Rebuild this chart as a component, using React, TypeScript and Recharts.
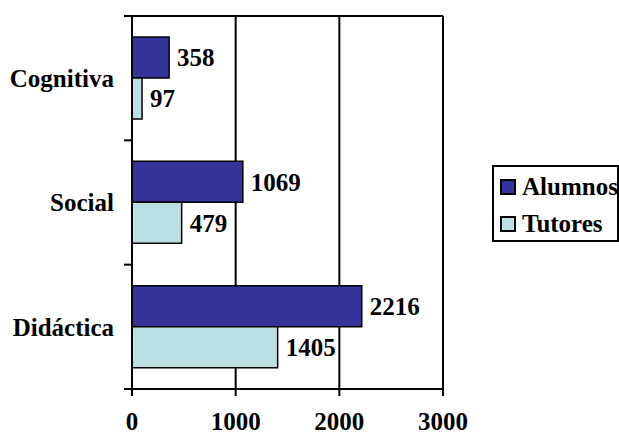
import React from 'react';
import { BarChart, Bar, XAxis, YAxis, CartesianGrid, LabelList, ReferenceLine } from 'recharts';

const categories = ['Cognitiva', 'Social', 'Didáctica'];
const alumnos = [358, 1069, 2216];
const tutores = [97, 479, 1405];
const xTicks = [0, 1000, 2000, 3000];
const seriesNames = ['Alumnos', 'Tutores'];
const seriesColors = ['#333399', '#BBE0E3'];

const data = categories.map((name, i) => ({ name, Alumnos: alumnos[i], Tutores: tutores[i] }));

const W = 619;
const H = 435;
const M = { top: 16, right: 176, bottom: 0, left: 0 };
const YW = 132;
const XH = 46;
const plotH = H - M.top - M.bottom - XH;
const band = plotH / categories.length;
const FONT = '"Liberation Serif", "Times New Roman", Times, serif';
const FS = 25;

const YTick = (props: any) => {
  const { x, y, payload, index } = props;
  const last = index === categories.length - 1;
  return (
    <g>
      <line x1={x - 8} x2={x} y1={y - band / 2} y2={y - band / 2} stroke="#000" strokeWidth={2} />
      {last && <line x1={x - 8} x2={x} y1={y + band / 2} y2={y + band / 2} stroke="#000" strokeWidth={2} />}
      <text x={x - 18} y={y} dy="0.35em" textAnchor="end" fontFamily={FONT} fontWeight="bold" fontSize={FS} fill="#000">
        {payload.value}
      </text>
    </g>
  );
};

const XTick = (props: any) => {
  const { x, y, payload } = props;
  return (
    <text x={x} y={y + 34} textAnchor="middle" fontFamily={FONT} fontWeight="bold" fontSize={FS} fill="#000">
      {payload.value}
    </text>
  );
};

const LegendBox = () => (
  <div
    style={{
      position: 'absolute',
      left: 492,
      top: 165,
      border: '2px solid #000',
      width: 127,
      height: 77,
      boxSizing: 'border-box',
      background: '#fff',
      fontFamily: FONT,
      fontWeight: 'bold',
      fontSize: FS,
      paddingTop: 1,
    }}
  >
    {seriesNames.map((n, i) => (
      <div key={n} style={{ display: 'flex', alignItems: 'center', height: 37, paddingLeft: 6 }}>
        <div
          style={{
            width: 16,
            height: 16,
            boxSizing: 'border-box',
            border: '2px solid #000',
            background: seriesColors[i],
            marginRight: 6,
            flexShrink: 0,
          }}
        />
        <span style={{ lineHeight: '25px', whiteSpace: 'nowrap' }}>{n}</span>
      </div>
    ))}
  </div>
);

export default function App() {
  return (
    <div style={{ position: 'absolute', left: 0, top: 0, width: W, height: H, background: '#fff' }}>
      <BarChart
        width={W}
        height={H}
        data={data}
        layout="vertical"
        margin={M}
        barSize={41}
        barGap={0}
      >
        <CartesianGrid stroke="#000" strokeWidth={2} vertical={true} horizontal={false} />
        <XAxis
          type="number"
          domain={[0, 3000]}
          ticks={xTicks}
          height={XH}
          tickSize={7}
          tickMargin={0}
          axisLine={{ stroke: '#000', strokeWidth: 2 }}
          tickLine={{ stroke: '#000', strokeWidth: 2 }}
          tick={<XTick />}
          interval={0}
        />
        <YAxis
          type="category"
          dataKey="name"
          width={YW}
          tickSize={0}
          tickMargin={0}
          tickLine={false}
          axisLine={{ stroke: '#000', strokeWidth: 2 }}
          tick={<YTick />}
          interval={0}
        />
        <ReferenceLine y={categories[0]} position="start" stroke="#000" strokeWidth={2} />
        {seriesNames.map((n, i) => (
          <Bar key={n} dataKey={n} fill={seriesColors[i]} stroke="#000" strokeWidth={1.5} isAnimationActive={false}>
            <LabelList
              dataKey={n}
              position="right"
              offset={8}
              fill="#000"
              fontFamily={FONT}
              fontWeight="bold"
              fontSize={FS}
            />
          </Bar>
        ))}
      </BarChart>
      <LegendBox />
    </div>
  );
}
